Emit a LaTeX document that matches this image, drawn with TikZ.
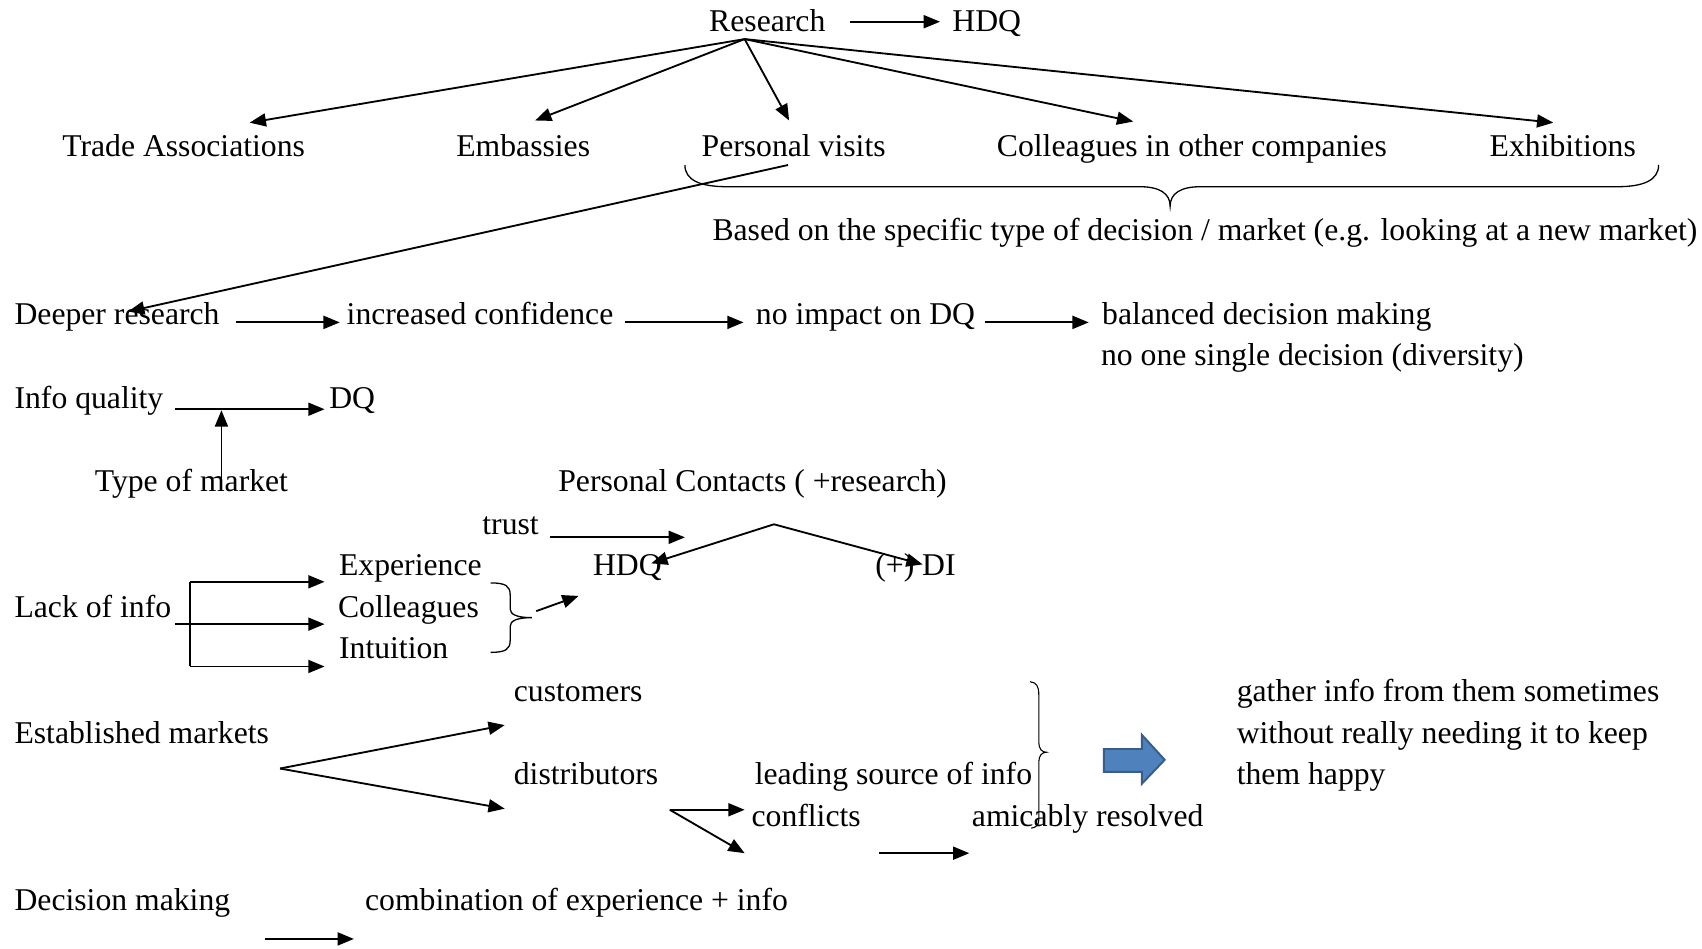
\documentclass[tikz,border=0pt]{standalone}
\usepackage{fontspec}
\setmainfont{Liberation Serif}
\usetikzlibrary{arrows.meta}
\definecolor{arrowfill}{HTML}{4F81BD}
\definecolor{arrowedge}{HTML}{385D8A}
\begin{document}
\begin{tikzpicture}[x=0.5pt,y=-0.5pt,
  txt/.style={anchor=base west,inner sep=0pt,font=\fontsize{14.6}{17}\selectfont},
  arr/.style={-{Triangle[length=7.5pt,width=6pt]},line width=0.85pt},
  ln/.style={line width=0.85pt},
  bracepath/.style={line width=0.6pt}]
\useasboundingbox (0,0) rectangle (1568,874);

% ---- text nodes ----
\node[txt] (research) at (653,29) {Research};
\node[txt] (hdq) at (877,29) {HDQ};
\node[txt] (trade) at (57,144) {Trade Associations};
\node[txt] (emb) at (420,144) {Embassies};
\node[txt] (visits) at (646,144) {Personal visits};
\node[txt] (coll) at (918,144) {Colleagues in other companies};
\node[txt] (exhib) at (1372,144) {Exhibitions};
\node[txt] (based) at (656,222) {Based on the specific type of decision / market (e.g. looking at a new market)};
\node[txt] (deeper) at (13,299) {Deeper research};
\node[txt] (conf) at (319,299) {increased confidence};
\node[txt] (noimp) at (696,299) {no impact on DQ};
\node[txt] (bal) at (1015,299) {balanced decision making};
\node[txt] (nosingle) at (1014,337) {no one single decision (diversity)};
\node[txt] (infoq) at (13,376) {Info quality};
\node[txt] (dq) at (303,376) {DQ};
\node[txt] (typem) at (87,453) {Type of market};
\node[txt] (pcont) at (514,453) {Personal Contacts ( +research)};
\node[txt] (trust) at (444,492) {trust};
\node[txt] (hdqb) at (546,530) {HDQ};
\node[txt] (di) at (806,530) {(+) DI};
\node[txt] (exper) at (312,530) {Experience};
\node[txt] (colls) at (311,569) {Colleagues};
\node[txt] (intu) at (312,607) {Intuition};
\node[txt] (lack) at (13,569) {Lack of info};
\node[txt] (cust) at (473,646) {customers};
\node[txt] (estab) at (13,685) {Established markets};
\node[txt] (distr) at (473,723) {distributors};
\node[txt] (lead) at (695,723) {leading source of info};
\node[txt] (confl) at (692,761) {conflicts};
\node[txt] (amic) at (895,761) {amicably resolved};
\node[txt] (g1) at (1139,646) {gather info from them sometimes};
\node[txt] (g2) at (1139,685) {without really needing it to keep};
\node[txt] (g3) at (1139,723) {them happy};
\node[txt] (dm) at (13,839) {Decision making};
\node[txt] (combo) at (336,839) {combination of experience + info};

% ---- connector end points ----
\coordinate (rhub) at (686,36);
\coordinate (tTrade) at (230,113);
\coordinate (tEmb) at (493,111);
\coordinate (tVisits) at (727,111);
\coordinate (tColl) at (1044,112);
\coordinate (tExhib) at (1431,113);
\coordinate (peak) at (713,483);
\coordinate (emfork) at (258,708);
\coordinate (cfork) at (617,746);

% Research row
\draw[arr] (783,20) -- (866,20);
\foreach \t in {tTrade,tEmb,tVisits,tColl,tExhib}
  \draw[arr] (rhub) -- (\t);

% brace under the source list
\draw[bracepath] (631,152) .. controls (631,166) and (645,172) .. (670,172)
  -- (1050,172) .. controls (1068,172) and (1078,178) .. (1078,190)
  .. controls (1078,178) and (1088,172) .. (1106,172)
  -- (1490,172) .. controls (1514,172) and (1528,166) .. (1528,152);

% personal visits lead to deeper research
\draw[arr] (726,152) -- (118,287);

% Deeper research chain
\draw[arr] (217,297) -- (313,297);
\draw[arr] (576,297) -- (685,297);
\draw[arr] (907,297) -- (1003,297);

% Info quality -> DQ, moderated by type of market
\draw[arr] (161,377) -- (299,377);
\draw[arr] (204,440) -- (204,378);

% personal contacts
\draw[arr] (507,495) -- (631,495);
\draw[arr] (peak) -- (600,519);
\draw[arr] (peak) -- (850,520);

% Lack of info fan-out
\draw[ln] (175,536) -- (175,614);
\draw[arr] (175,536) -- (299,536);
\draw[arr] (161,575) -- (299,575);
\draw[arr] (175,614) -- (299,614);

% brace grouping experience / colleagues / intuition
\draw[bracepath] (452,537) .. controls (466,537) and (470,540) .. (470,548)
  -- (470,561) .. controls (470,566) and (476,569) .. (490,569)
  .. controls (476,569) and (470,572) .. (470,577)
  -- (470,590) .. controls (470,598) and (466,601) .. (452,601);
\draw[arr] (494,563) -- (533,549);

% Established markets
\draw[arr] (emfork) -- (465,668);
\draw[arr] (emfork) -- (465,745);
\draw[arr] (cfork) -- (686,746);
\draw[arr] (cfork) -- (686,786);
\draw[arr] (810,786) -- (893,786);

% tall brace
\draw[line width=0.5pt] (949,628) .. controls (955,629) and (957,632) .. (957,640)
  -- (957,684) .. controls (957,690) and (960,693) .. (964,693)
  .. controls (960,693) and (957,696) .. (957,702)
  -- (957,755) .. controls (957,760) and (955,762) .. (950,763);

% block arrow
\draw[fill=arrowfill,draw=arrowedge,line width=0.9pt]
  (1017,690) -- (1052,690) -- (1052,677) -- (1073,700) -- (1052,722)
  -- (1052,711) -- (1017,711) -- cycle;

% Decision making
\draw[arr] (244,865) -- (326,865);
\end{tikzpicture}
\end{document}
